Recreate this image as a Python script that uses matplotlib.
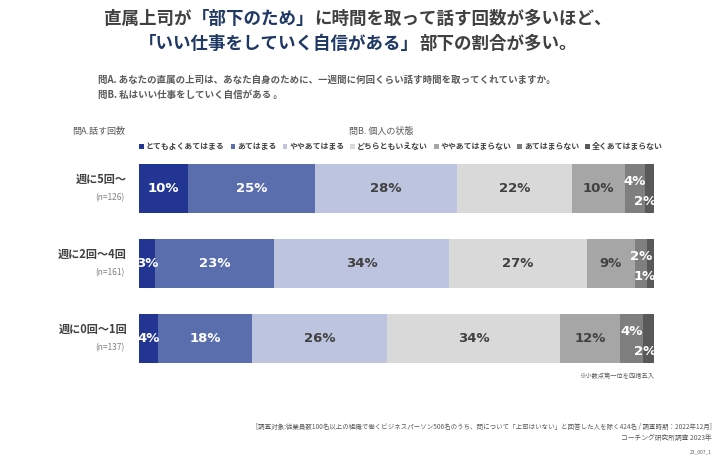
import matplotlib
matplotlib.use("Agg")
import matplotlib.pyplot as plt
from matplotlib.patches import Patch
import numpy as np

plt.rcParams['font.family'] = ['Noto Sans CJK JP', 'DejaVu Sans']

# --- data ---
rows = ["週に5回〜", "週に2回〜4回", "週に0回〜1回"]
n_labels = ["(n=126)", "(n=161)", "(n=137)"]
categories = ["とてもよくあてはまる", "あてはまる", "ややあてはまる", "どちらともいえない",
              "ややあてはまらない", "あてはまらない", "全くあてはまらない"]
values = [
    [9.5, 24.7, 27.7, 22.2, 10.3, 4.0, 1.7],
    [3.2, 23.0, 34.0, 26.8, 9.3, 2.4, 1.3],
    [3.7, 18.2, 26.3, 33.6, 11.7, 4.5, 2.1],
]
shown = [
    [10, 25, 28, 22, 10, 4, 2],
    [3, 23, 34, 27, 9, 2, 1],
    [4, 18, 26, 34, 12, 4, 2],
]
colors = ["#233593", "#5a6eae", "#bcc4df", "#d9d9d9", "#a6a6a6", "#7f7f7f", "#595959"]
text_colors = ["white", "white", "#404040", "#404040", "#404040", "white", "white"]

W, H = 720, 457
fig = plt.figure(figsize=(7.2, 4.57), dpi=100)
fx = lambda px: px / W
fy = lambda py: 1 - py / H

# bar area in pixels
left, right, top, bottom = 139, 654, 164, 363
ax = fig.add_axes([fx(left), fy(bottom), fx(right - left), (bottom - top) / H])
bar_h = 49 / 75
ax.set_xlim(0, 100)
ax.set_ylim(2 + bar_h / 2, -bar_h / 2)
ax.axis("off")

px_y = 75 / 1.0  # pixels per row unit
for i, row in enumerate(values):
    v = np.array(row) / sum(row) * 100
    starts = np.concatenate([[0], np.cumsum(v)[:-1]])
    ax.barh(i, v, left=starts, height=bar_h, color=colors, edgecolor="none")
    for j in range(len(v)):
        lab = f"{shown[i][j]}%"
        cx = starts[j] + v[j] / 2
        if j == 5:
            ax.text(cx, i - 7 / px_y, lab, ha="center", va="center", color=text_colors[j],
                    fontsize=9.5, fontweight="bold", family="DejaVu Sans")
        elif j == 6:
            ax.text(100.4, i + 13 / px_y, lab, ha="right", va="center", color=text_colors[j],
                    fontsize=9.5, fontweight="bold", family="DejaVu Sans")
        else:
            ax.text(cx, i, lab, ha="center", va="center", color=text_colors[j],
                    fontsize=9.5, fontweight="bold", family="DejaVu Sans")
    cy = 189 + 75 * i
    fig.text(fx(127), fy(cy - 10), rows[i], ha="right", va="center", fontsize=8,
             fontweight="bold", color="#404040")
    fig.text(fx(125), fy(cy + 9), n_labels[i], ha="right", va="center", fontsize=6,
             color="#7f7f7f")


# --- title with coloured parts ---
def rich_line(py, parts, size, cx=358):
    texts = [fig.text(0, fy(py), s, color=c, fontsize=size, fontweight="bold", va="center")
             for s, c in parts]
    r = fig.canvas.get_renderer()
    widths = [t.get_window_extent(r).width for t in texts]
    x = cx - sum(widths) / 2
    for t, w in zip(texts, widths):
        t.set_x(fx(x))
        x += w


gray, navy = "#404040", "#1f3864"
rich_line(19, [("直属上司が", gray), ("「部下のため」", navy), ("に時間を取って話す回数が多いほど、", gray)], 12.6)
rich_line(44, [("「いい仕事をしていく自信がある」", navy), ("部下の割合が多い。", gray)], 12.6)

fig.text(fx(98), fy(80), "問A. あなたの直属の上司は、あなた自身のために、一週間に何回くらい話す時間を取ってくれていますか。",
         fontsize=6.8, fontweight="bold", color="#595959", va="center")
fig.text(fx(98), fy(95), "問B. 私はいい仕事をしていく自信がある 。",
         fontsize=6.8, fontweight="bold", color="#595959", va="center")

fig.text(fx(99), fy(131), "問A.話す回数", ha="center", va="center", fontsize=6.5, color="#595959")
fig.text(fx(381), fy(131), "問B. 個人の状態", ha="center", va="center", fontsize=6.5, color="#595959")

handles = [Patch(facecolor=c, edgecolor="none") for c in colors]
leg = fig.legend(handles, categories, loc="center", bbox_to_anchor=(fx(401), fy(147)), ncol=7,
                 frameon=False, fontsize=5.7, handlelength=0.6, handleheight=0.6,
                 handletextpad=0.25, columnspacing=0.75, borderpad=0)
for t in leg.get_texts():
    t.set_fontweight("bold")
    t.set_color("#404040")

fig.text(fx(654), fy(376), "※小数点第一位を四捨五入", ha="right", va="center", fontsize=4.5, color="#595959")

fig.text(fx(712), fy(427),
         "[調査対象:従業員数100名以上の組織で働くビジネスパーソン506名のうち、問について「上司はいない」と回答した人を除く424名 / 調査時期：2022年12月]",
         ha="right", va="center", fontsize=4.65, color="#595959")
fig.text(fx(712), fy(438), "コーチング研究所調査 2023年", ha="right", va="center", fontsize=4.85, color="#595959")
fig.text(fx(712), fy(452), "23_007_1", ha="right", va="center", fontsize=3.5, color="#595959")

fig.savefig("out.png", dpi=100)
